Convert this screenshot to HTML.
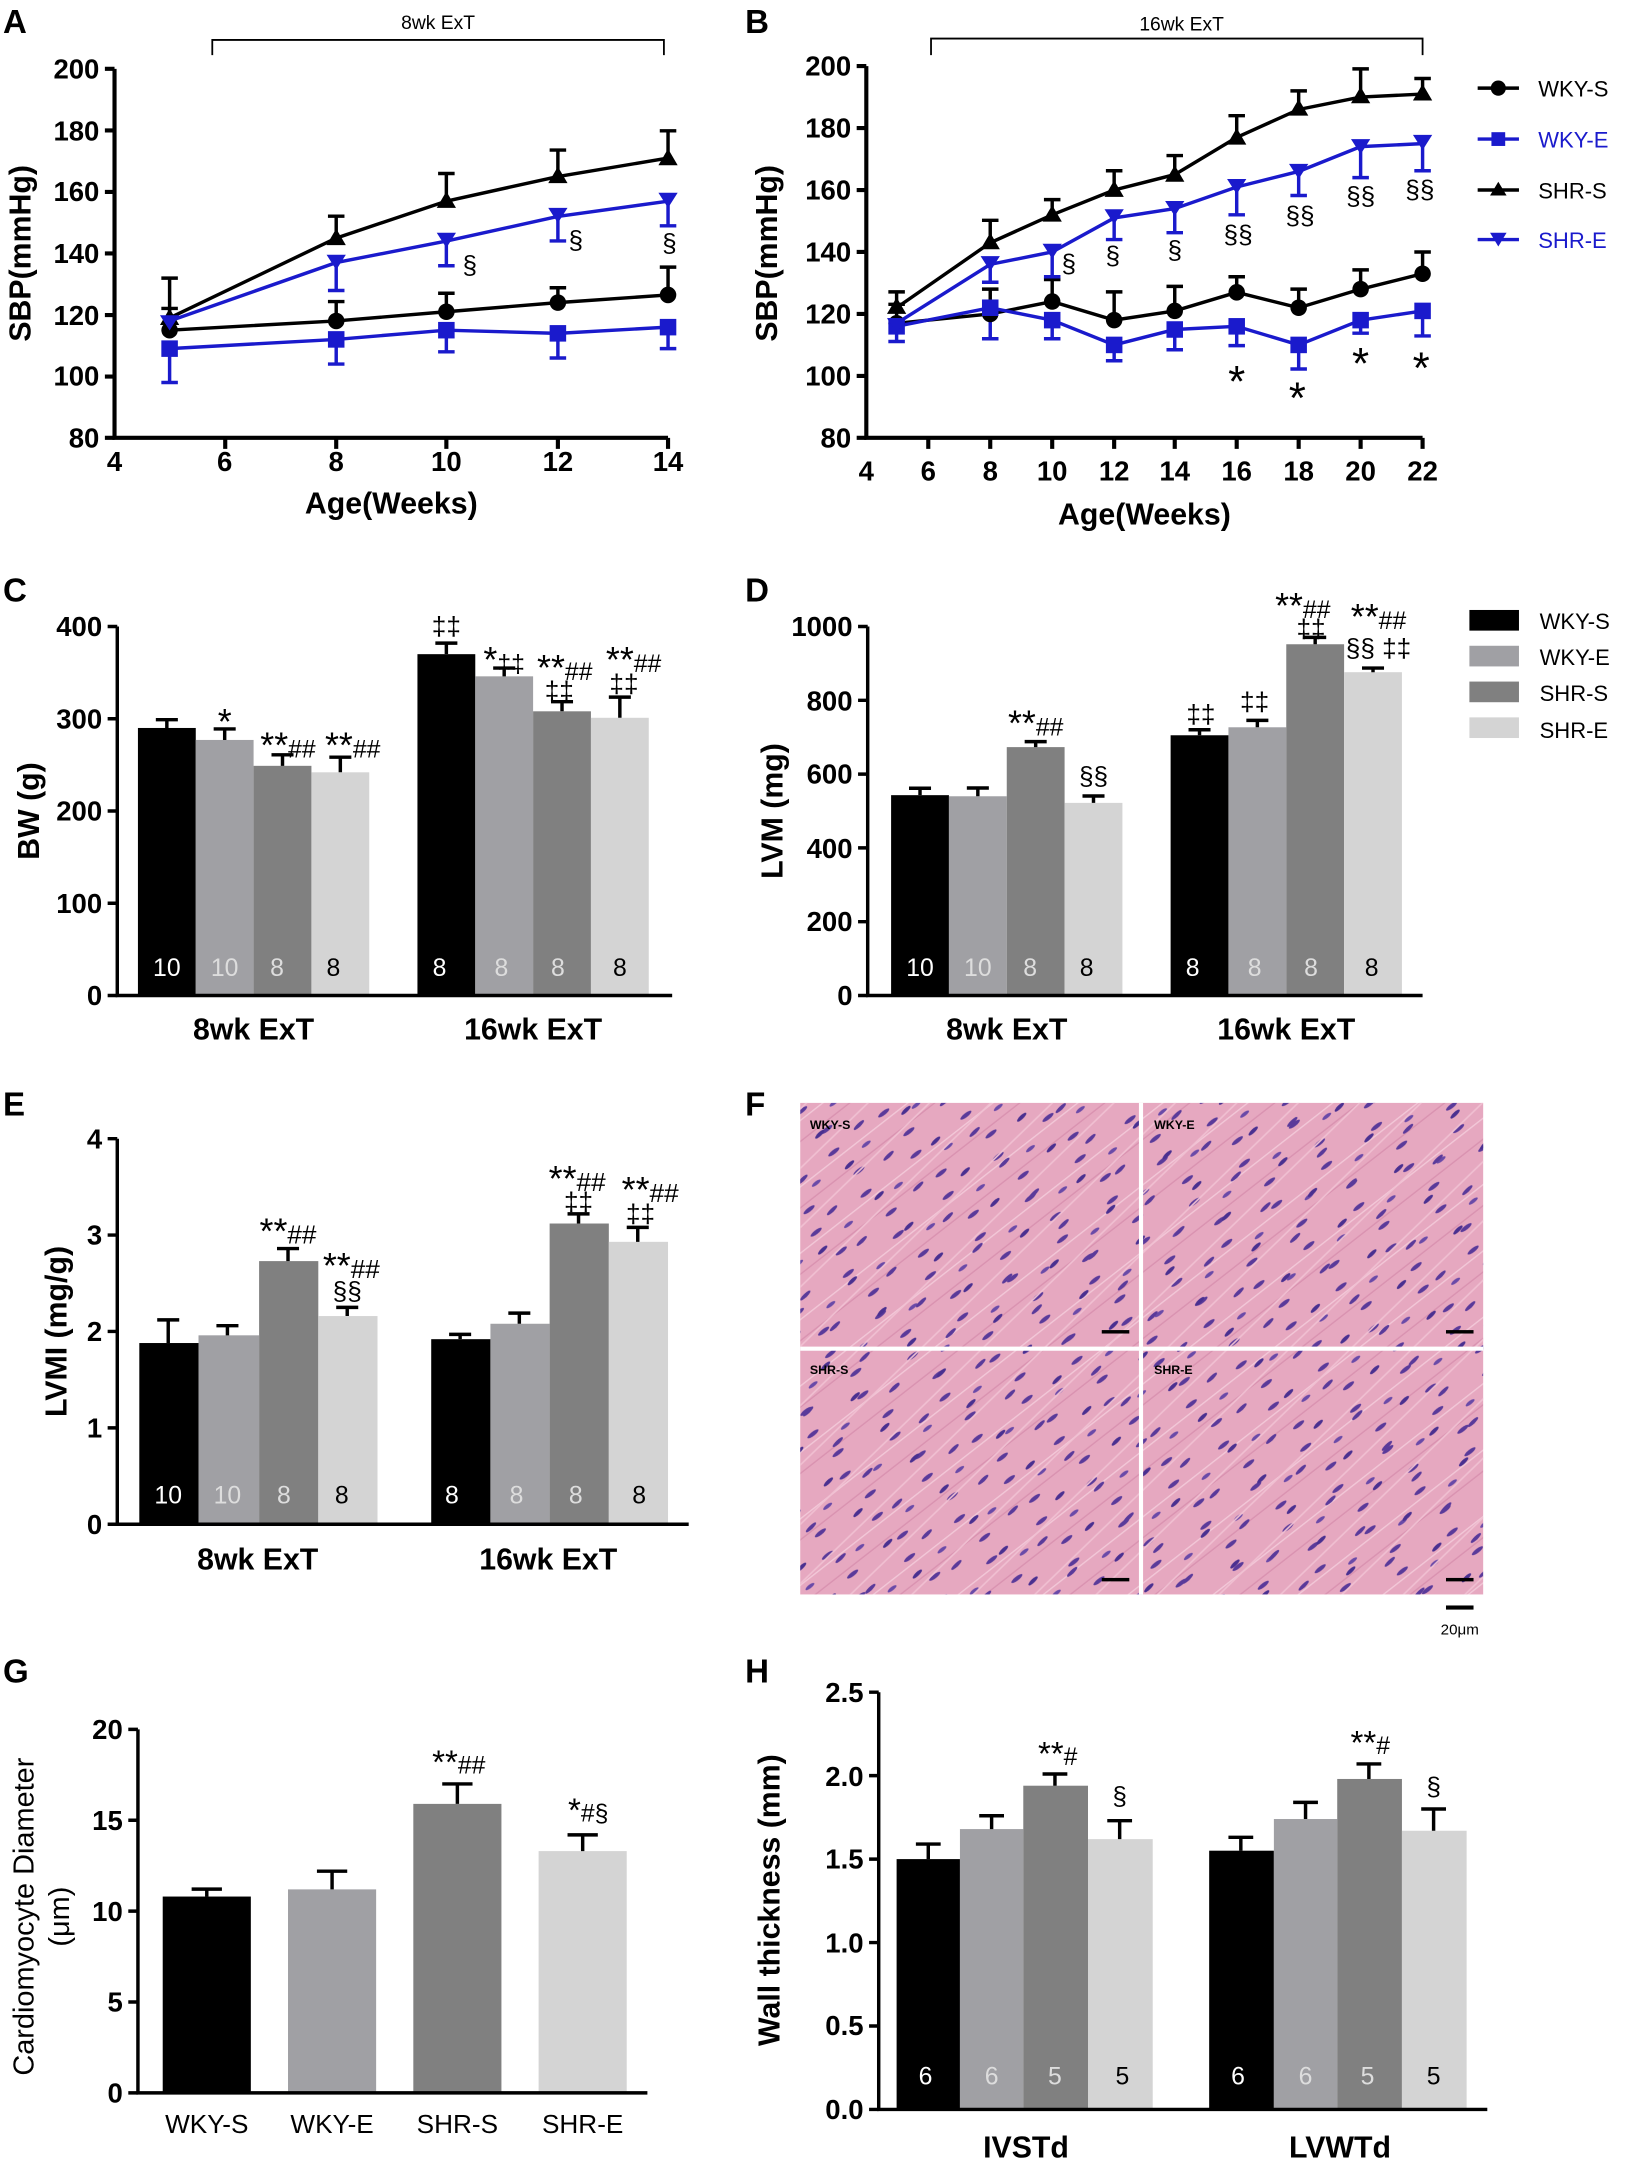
<!DOCTYPE html>
<html><head><meta charset="utf-8"><style>
html,body{margin:0;padding:0;background:#fff}
svg{display:block}
text{font-family:"Liberation Sans",Arial,sans-serif}
.pl{font-size:24px;font-weight:bold}
.tk{font-size:20px;font-weight:bold;text-anchor:end}
.tx{font-size:20px;font-weight:bold;text-anchor:middle}
.ax{font-size:22px;font-weight:bold;text-anchor:middle}
.n{font-size:18px;text-anchor:middle}
.an{font-size:19px;text-anchor:middle}
.st{font-size:26px}
.lg{font-size:16px}
</style></head><body>
<svg width="1639" height="2170" viewBox="0 0 1190 1576" xmlns="http://www.w3.org/2000/svg">
<defs>
<pattern id="tis" width="46" height="38" patternUnits="userSpaceOnUse" patternTransform="rotate(-38)">
<rect width="46" height="38" fill="#e6a8c0"/>
<ellipse cx="8" cy="6" rx="5" ry="1.5" fill="#5a3a9a"/>
<ellipse cx="30" cy="16" rx="4" ry="1.3" fill="#6a4aa8"/>
<ellipse cx="14" cy="28" rx="5" ry="1.5" fill="#5a3a9a"/>
<line x1="0" y1="11" x2="46" y2="11" stroke="#f2c8d8" stroke-width="1"/>
<line x1="0" y1="23" x2="46" y2="23" stroke="#d992b0" stroke-width="1"/>
</pattern>
<pattern id="tis2" width="57" height="31" patternUnits="userSpaceOnUse" patternTransform="rotate(-44) translate(7,5)">
<ellipse cx="20" cy="9" rx="4.5" ry="1.4" fill="#4a3090"/>
<ellipse cx="45" cy="24" rx="5" ry="1.4" fill="#5a3a9a"/>
<line x1="0" y1="17" x2="57" y2="17" stroke="#f0c0d2" stroke-width="1.2"/>
</pattern>
</defs>
<g fill="#000">
<text class="pl" x="2" y="24">A</text><text class="pl" x="541" y="24">B</text>
<text class="pl" x="2" y="437">C</text><text class="pl" x="541" y="437">D</text>
<text class="pl" x="2" y="810">E</text><text class="pl" x="541" y="810">F</text>
<text class="pl" x="2" y="1222">G</text><text class="pl" x="541" y="1222">H</text>
</g>

<!-- Panel A -->
<g stroke="#000" stroke-width="3" fill="none">
<path d="M83 50V318H485"/>
<path d="M76 50H83M76 94.7H83M76 139.4H83M76 184.1H83M76 228.8H83M76 273.5H83M76 318H83"/>
<path d="M163.4 318v8M244 318v8M324 318v8M405 318v8M485 318v8"/>
</g>
<path d="M154 40V29H482V40" stroke="#000" stroke-width="1.3" fill="none"/>
<text x="318" y="21" font-size="14" text-anchor="middle">8wk ExT</text>
<g>
<text class="tk" x="72" y="57">200</text><text class="tk" x="72" y="102">180</text><text class="tk" x="72" y="146">160</text><text class="tk" x="72" y="191">140</text><text class="tk" x="72" y="236">120</text><text class="tk" x="72" y="280">100</text><text class="tk" x="72" y="325">80</text>
<text class="tx" x="83" y="342">4</text><text class="tx" x="163" y="342">6</text><text class="tx" x="244" y="342">8</text><text class="tx" x="324" y="342">10</text><text class="tx" x="405" y="342">12</text><text class="tx" x="485" y="342">14</text>
<text class="ax" x="284" y="373">Age(Weeks)</text>
<text class="ax" transform="translate(22,184) rotate(-90)" font-size="26">SBP(mmHg)</text>
</g>
<g stroke="#000" stroke-width="2.5" fill="none">
<polyline points="123,239.8 244,233.1 324,226.4 405,219.8 485,214.2"/>
<polyline points="123,230.9 244,172.9 324,146.1 405,128.2 485,114.8"/>
<path d="M123 239.8V202m-6 0h12M244 233.1V219m-6 0h12M324 226.4V213m-6 0h12M405 219.8V209m-6 0h12M485 214.2V194m-6 0h12"/>
<path d="M123 230.9V224m-6 0h12M244 172.9V157m-6 0h12M324 146.1V126m-6 0h12M405 128.2V109m-6 0h12M485 114.8V95m-6 0h12"/>
</g>
<g stroke="#1a1acc" stroke-width="2.5" fill="none">
<polyline points="123,253.2 244,246.5 324,239.8 405,242.1 485,237.6"/>
<polyline points="123,233.1 244,190.7 324,175.1 405,157.2 485,146.1"/>
<path d="M123 253.2V277.8m-6 0h12M244 246.5V264.4m-6 0h12M324 239.8V255.5m-6 0h12M405 242.1V260m-6 0h12M485 237.6V253.2m-6 0h12"/>
<path d="M244 190.7V211m-6 0h12M324 175.1V193m-6 0h12M405 157.2V175m-6 0h12M485 146.1V164m-6 0h12"/>
</g>
<g fill="#000">
<circle cx="123" cy="239.8" r="6"/><circle cx="244" cy="233.1" r="6"/><circle cx="324" cy="226.4" r="6"/><circle cx="405" cy="219.8" r="6"/><circle cx="485" cy="214.2" r="6"/>
<path d="M123 224l7 12h-14zM244 166l7 12h-14zM324 139l7 12h-14zM405 121l7 12h-14zM485 108l7 12h-14z"/>
</g>
<g fill="#1a1acc">
<rect x="117" y="247.2" width="12" height="12"/><rect x="238" y="240.5" width="12" height="12"/><rect x="318" y="233.8" width="12" height="12"/><rect x="399" y="236.1" width="12" height="12"/><rect x="479" y="231.6" width="12" height="12"/>
<path d="M116 229h14l-7 11zM237 185h14l-7 11zM317 169h14l-7 11zM398 151h14l-7 11zM478 140h14l-7 11z"/>
</g>
<g><text class="an" x="341" y="199">§</text><text class="an" x="418" y="181">§</text><text class="an" x="486" y="183">§</text></g>

<!-- Panel B -->
<g stroke="#000" stroke-width="3" fill="none">
<path d="M629 48V318H1033"/>
<path d="M622 48H629M622 93H629M622 138H629M622 183H629M622 228H629M622 273H629M622 318H629"/>
<path d="M674 318v8M719 318v8M764 318v8M809 318v8M853 318v8M898 318v8M943 318v8M988 318v8M1033 318v8"/>
</g>
<path d="M676 40V28H1033V40" stroke="#000" stroke-width="1.3" fill="none"/>
<text x="858" y="22" font-size="14" text-anchor="middle">16wk ExT</text>
<g>
<text class="tk" x="618" y="55">200</text><text class="tk" x="618" y="100">180</text><text class="tk" x="618" y="145">160</text><text class="tk" x="618" y="190">140</text><text class="tk" x="618" y="235">120</text><text class="tk" x="618" y="280">100</text><text class="tk" x="618" y="325">80</text>
<text class="tx" x="629" y="349">4</text><text class="tx" x="674" y="349">6</text><text class="tx" x="719" y="349">8</text><text class="tx" x="764" y="349">10</text><text class="tx" x="809" y="349">12</text><text class="tx" x="853" y="349">14</text><text class="tx" x="898" y="349">16</text><text class="tx" x="943" y="349">18</text><text class="tx" x="988" y="349">20</text><text class="tx" x="1033" y="349">22</text>
<text class="ax" x="831" y="381">Age(Weeks)</text>
<text class="ax" transform="translate(564,184) rotate(-90)" font-size="26">SBP(mmHg)</text>
</g>
<g stroke="#000" stroke-width="2.5" fill="none">
<polyline points="651,234.8 719,228 764,219 809,232.5 853,225.8 898,212.3 943,223.5 988,210 1033,198.8"/>
<polyline points="651,223.5 719,176.3 764,156 809,138 853,126.8 898,99.8 943,79.5 988,70.5 1033,68.3"/>
<path d="M651 234.8V221m-6 0h12M719 228V210m-6 0h12M764 219V203m-6 0h12M809 232.5V212m-6 0h12M853 225.8V208m-6 0h12M898 212.3V201m-6 0h12M943 223.5V210m-6 0h12M988 210V196m-6 0h12M1033 198.8V183m-6 0h12"/>
<path d="M651 223.5V212m-6 0h12M719 176.3V160m-6 0h12M764 156V145m-6 0h12M809 138V124m-6 0h12M853 126.8V113m-6 0h12M898 99.8V84m-6 0h12M943 79.5V66m-6 0h12M988 70.5V50m-6 0h12M1033 68.3V57m-6 0h12"/>
</g>
<g stroke="#1a1acc" stroke-width="2.5" fill="none">
<polyline points="651,237 719,223.5 764,232.5 809,250.5 853,239.3 898,237 943,250.5 988,232.5 1033,225.8"/>
<polyline points="651,234.8 719,192 764,183 809,158.3 853,151.5 898,135.8 943,124.5 988,106.5 1033,104.3"/>
<path d="M651 237V248m-6 0h12M719 223.5V246m-6 0h12M764 232.5V246m-6 0h12M809 250.5V262m-6 0h12M853 239.3V254m-6 0h12M898 237V251m-6 0h12M943 250.5V268m-6 0h12M988 232.5V242m-6 0h12M1033 225.8V244m-6 0h12"/>
<path d="M719 192V205m-6 0h12M764 183V201m-6 0h12M809 158.3V174m-6 0h12M853 151.5V169m-6 0h12M898 135.8V156m-6 0h12M943 124.5V142m-6 0h12M988 106.5V129m-6 0h12M1033 104.3V124m-6 0h12"/>
</g>
<g fill="#000">
<circle cx="651" cy="234.8" r="6"/><circle cx="719" cy="228" r="6"/><circle cx="764" cy="219" r="6"/><circle cx="809" cy="232.5" r="6"/><circle cx="853" cy="225.8" r="6"/><circle cx="898" cy="212.3" r="6"/><circle cx="943" cy="223.5" r="6"/><circle cx="988" cy="210" r="6"/><circle cx="1033" cy="198.8" r="6"/>
<path d="M651 216l7 12h-14zM719 169l7 12h-14zM764 149l7 12h-14zM809 131l7 12h-14zM853 120l7 12h-14zM898 93l7 12h-14zM943 72l7 12h-14zM988 63l7 12h-14zM1033 61l7 12h-14z"/>
</g>
<g fill="#1a1acc">
<rect x="645" y="231" width="12" height="12"/><rect x="713" y="217.5" width="12" height="12"/><rect x="758" y="226.5" width="12" height="12"/><rect x="803" y="244.5" width="12" height="12"/><rect x="847" y="233.3" width="12" height="12"/><rect x="892" y="231" width="12" height="12"/><rect x="937" y="244.5" width="12" height="12"/><rect x="982" y="226.5" width="12" height="12"/><rect x="1027" y="219.8" width="12" height="12"/>
<path d="M644 231h14l-7 11zM712 186h14l-7 11zM757 177h14l-7 11zM802 152h14l-7 11zM846 146h14l-7 11zM891 130h14l-7 11zM936 119h14l-7 11zM981 101h14l-7 11zM1026 98h14l-7 11z"/>
</g>
<g>
<text class="an" x="776" y="198">§</text><text class="an" x="808" y="192">§</text><text class="an" x="853" y="188">§</text><text class="an" x="899" y="177">§§</text><text class="an" x="944" y="163">§§</text><text class="an" x="988" y="149">§§</text><text class="an" x="1031" y="144">§§</text>
<text x="898" y="288" font-size="32" text-anchor="middle">*</text><text x="942" y="300" font-size="32" text-anchor="middle">*</text><text x="988" y="275" font-size="32" text-anchor="middle">*</text><text x="1032" y="278" font-size="32" text-anchor="middle">*</text>
</g>
<!-- legend AB -->
<g stroke-width="2.5">
<line x1="1073" y1="64" x2="1103" y2="64" stroke="#000"/><circle cx="1088" cy="64" r="5.5" fill="#000"/>
<line x1="1073" y1="101" x2="1103" y2="101" stroke="#1a1acc"/><rect x="1083" y="96" width="10" height="10" fill="#1a1acc"/>
<line x1="1073" y1="138" x2="1103" y2="138" stroke="#000"/><path d="M1088 132l6 10h-12z" fill="#000"/>
<line x1="1073" y1="174" x2="1103" y2="174" stroke="#1a1acc"/><path d="M1082 169h12l-6 10z" fill="#1a1acc"/>
</g>
<text class="lg" x="1117" y="70">WKY-S</text><text class="lg" x="1117" y="107" fill="#1a1acc">WKY-E</text><text class="lg" x="1117" y="144">SHR-S</text><text class="lg" x="1117" y="180" fill="#1a1acc">SHR-E</text>

<!-- Panel C -->
<g>
<rect x="100" y="528.7" width="42" height="194.3" fill="#000"/><rect x="142" y="537.4" width="42" height="185.6" fill="#a0a0a4"/><rect x="184" y="556.2" width="42" height="166.8" fill="#808080"/><rect x="226" y="560.9" width="42" height="162.1" fill="#d4d4d4"/>
<rect x="303" y="475.1" width="42" height="247.9" fill="#000"/><rect x="345" y="491.2" width="42" height="231.8" fill="#a0a0a4"/><rect x="387" y="516.6" width="42" height="206.4" fill="#808080"/><rect x="429" y="521.3" width="42" height="201.7" fill="#d4d4d4"/>
</g>
<g stroke="#000" stroke-width="2.5" fill="none">
<path d="M121 528.7v-6m-8 0h16M163 537.4v-8m-8 0h16M205 556.2v-8m-8 0h16M247 560.9v-11m-8 0h16M324 475.1v-8m-8 0h16M366 491.2v-6m-8 0h16M408 516.6v-7m-8 0h16M450 521.3v-15m-8 0h16"/>
<path d="M85 455V723H488"/>
<path d="M78 455H85M78 522H85M78 589H85M78 656H85M78 723H85"/>
</g>
<g>
<text class="tk" x="74" y="462">400</text><text class="tk" x="74" y="529">300</text><text class="tk" x="74" y="596">200</text><text class="tk" x="74" y="663">100</text><text class="tk" x="74" y="730">0</text>
<text class="ax" x="184" y="755">8wk ExT</text><text class="ax" x="387" y="755">16wk ExT</text>
<text class="ax" transform="translate(28,589) rotate(-90)">BW (g)</text>
<text class="n" x="121" y="709" fill="#fff">10</text><text class="n" x="163" y="709" fill="#ddd">10</text><text class="n" x="201" y="709" fill="#ddd">8</text><text class="n" x="242" y="709">8</text>
<text class="n" x="319" y="709" fill="#fff">8</text><text class="n" x="364" y="709" fill="#ddd">8</text><text class="n" x="405" y="709" fill="#ddd">8</text><text class="n" x="450" y="709">8</text>
<text x="163" y="533" class="st" text-anchor="middle">*</text>
<text x="209" y="550" font-size="18" text-anchor="middle"><tspan class="st">**</tspan>##</text><text x="256" y="550" font-size="18" text-anchor="middle"><tspan class="st">**</tspan>##</text>
<text x="324" y="461" class="an">‡‡</text><text x="366" y="488" font-size="18" text-anchor="middle"><tspan class="st">*</tspan>‡‡</text>
<text x="410" y="494" font-size="18" text-anchor="middle"><tspan class="st">**</tspan>##</text><text x="406" y="508" class="an">‡‡</text>
<text x="460" y="488" font-size="18" text-anchor="middle"><tspan class="st">**</tspan>##</text><text x="453" y="503" class="an">‡‡</text>
</g>

<!-- Panel D -->
<g>
<rect x="647" y="577.5" width="42" height="145.5" fill="#000"/><rect x="689" y="578.3" width="42" height="144.7" fill="#a0a0a4"/><rect x="731" y="542.6" width="42" height="180.4" fill="#808080"/><rect x="773" y="583.1" width="42" height="139.9" fill="#d4d4d4"/>
<rect x="850" y="534" width="42" height="189" fill="#000"/><rect x="892" y="528.2" width="42" height="194.8" fill="#a0a0a4"/><rect x="934" y="467.9" width="42" height="255.1" fill="#808080"/><rect x="976" y="488.2" width="42" height="234.8" fill="#d4d4d4"/>
</g>
<g stroke="#000" stroke-width="2.5" fill="none">
<path d="M668 577.5v-5m-8 0h16M710 578.3v-6m-8 0h16M752 542.6v-4m-8 0h16M794 583.1v-5m-8 0h16M871 534v-4m-8 0h16M913 528.2v-5m-8 0h16M955 467.9v-5m-8 0h16M997 488.2v-3m-8 0h16"/>
<path d="M630 455V723H1033"/>
<path d="M623 455H630M623 508.6H630M623 562.2H630M623 615.8H630M623 669.4H630M623 723H630"/>
</g>
<g>
<text class="tk" x="619" y="462">1000</text><text class="tk" x="619" y="516">800</text><text class="tk" x="619" y="569">600</text><text class="tk" x="619" y="623">400</text><text class="tk" x="619" y="676">200</text><text class="tk" x="619" y="730">0</text>
<text class="ax" x="731" y="755">8wk ExT</text><text class="ax" x="934" y="755">16wk ExT</text>
<text class="ax" transform="translate(568,589) rotate(-90)">LVM (mg)</text>
<text class="n" x="668" y="709" fill="#fff">10</text><text class="n" x="710" y="709" fill="#ddd">10</text><text class="n" x="748" y="709" fill="#ddd">8</text><text class="n" x="789" y="709">8</text>
<text class="n" x="866" y="709" fill="#fff">8</text><text class="n" x="911" y="709" fill="#ddd">8</text><text class="n" x="952" y="709" fill="#ddd">8</text><text class="n" x="996" y="709">8</text>
<text x="752" y="534" font-size="18" text-anchor="middle"><tspan class="st">**</tspan>##</text><text x="794" y="570" class="an">§§</text>
<text x="872" y="525" class="an">‡‡</text><text x="911" y="516" class="an">‡‡</text>
<text x="946" y="449" font-size="18" text-anchor="middle"><tspan class="st">**</tspan>##</text><text x="952" y="463" class="an">‡‡</text>
<text x="1001" y="457" font-size="18" text-anchor="middle"><tspan class="st">**</tspan>##</text><text x="1001" y="477" class="an">§§ ‡‡</text>
</g>
<g>
<rect x="1067" y="443" width="36" height="15" fill="#000"/><rect x="1067" y="469" width="36" height="15" fill="#a0a0a4"/><rect x="1067" y="495" width="36" height="15" fill="#808080"/><rect x="1067" y="521" width="36" height="15" fill="#d4d4d4"/>
<text class="lg" x="1118" y="457">WKY-S</text><text class="lg" x="1118" y="483">WKY-E</text><text class="lg" x="1118" y="509">SHR-S</text><text class="lg" x="1118" y="536">SHR-E</text>
</g>

<!-- Panel E -->
<g>
<rect x="101" y="975.4" width="43" height="131.6" fill="#000"/><rect x="144" y="969.8" width="44" height="137.2" fill="#a0a0a4"/><rect x="188" y="915.9" width="43" height="191.1" fill="#808080"/><rect x="231" y="955.8" width="43" height="151.2" fill="#d4d4d4"/>
<rect x="313" y="972.6" width="43" height="134.4" fill="#000"/><rect x="356" y="961.4" width="43" height="145.6" fill="#a0a0a4"/><rect x="399" y="888.6" width="43" height="218.4" fill="#808080"/><rect x="442" y="901.9" width="43" height="205.1" fill="#d4d4d4"/>
</g>
<g stroke="#000" stroke-width="2.5" fill="none">
<path d="M122 975.4V958.6m-8 0h16M165 969.8V962.8m-8 0h16M209 915.9V906.8m-8 0h16M252 955.8V949.5m-8 0h16M334 972.6V969.1m-8 0h16M377 961.4V953.7m-8 0h16M420 888.6V881.6m-8 0h16M463 901.9V891.4m-8 0h16"/>
<path d="M85 827V1107H500"/>
<path d="M78 827H85M78 897H85M78 967H85M78 1037H85M78 1107H85"/>
</g>
<g>
<text class="tk" x="74" y="834">4</text><text class="tk" x="74" y="904">3</text><text class="tk" x="74" y="974">2</text><text class="tk" x="74" y="1044">1</text><text class="tk" x="74" y="1114">0</text>
<text class="ax" x="187" y="1140">8wk ExT</text><text class="ax" x="398" y="1140">16wk ExT</text>
<text class="ax" transform="translate(48,967) rotate(-90)">LVMI (mg/g)</text>
<text class="n" x="122" y="1092" fill="#fff">10</text><text class="n" x="165" y="1092" fill="#ddd">10</text><text class="n" x="206" y="1092" fill="#ddd">8</text><text class="n" x="248" y="1092">8</text>
<text class="n" x="328" y="1092" fill="#fff">8</text><text class="n" x="375" y="1092" fill="#ddd">8</text><text class="n" x="418" y="1092" fill="#ddd">8</text><text class="n" x="464" y="1092">8</text>
<text x="209" y="903" font-size="19" text-anchor="middle"><tspan class="st">**</tspan>##</text><text x="255" y="928" font-size="19" text-anchor="middle"><tspan class="st">**</tspan>##</text><text x="252" y="944" class="an">§§</text>
<text x="419" y="865" font-size="19" text-anchor="middle"><tspan class="st">**</tspan>##</text><text x="420" y="879" class="an">‡‡</text>
<text x="472" y="873" font-size="19" text-anchor="middle"><tspan class="st">**</tspan>##</text><text x="465" y="888" class="an">‡‡</text>
</g>

<!-- Panel F -->
<rect x="581" y="801" width="496" height="357" fill="url(#tis)"/>
<rect x="581" y="801" width="496" height="357" fill="url(#tis2)"/>
<rect x="827" y="801" width="3" height="357" fill="#fff"/>
<rect x="581" y="978" width="496" height="3" fill="#fff"/>
<g font-size="9" font-weight="bold"><text x="588" y="820">WKY-S</text><text x="838" y="820">WKY-E</text><text x="588" y="998">SHR-S</text><text x="838" y="998">SHR-E</text></g>
<g fill="#000"><rect x="800" y="966" width="20" height="2.5"/><rect x="1050" y="966" width="20" height="2.5"/><rect x="800" y="1146" width="20" height="2.5"/><rect x="1050" y="1146" width="20" height="2.5"/><rect x="1050" y="1166" width="20" height="3"/></g>
<text x="1060" y="1187" font-size="11" text-anchor="middle">20μm</text>

<!-- Panel G -->
<g>
<rect x="118" y="1377.4" width="64" height="142.6" fill="#000"/><rect x="209" y="1372.2" width="64" height="147.8" fill="#a0a0a4"/><rect x="300" y="1310.1" width="64" height="209.9" fill="#808080"/><rect x="391" y="1344.4" width="64" height="175.6" fill="#d4d4d4"/>
</g>
<g stroke="#000" stroke-width="2.5" fill="none">
<path d="M150 1377.4V1372m-11 0h22M241 1372.2V1359m-11 0h22M332 1310.1V1295.6m-11 0h22M423 1344.4V1332.6m-11 0h22"/>
<path d="M100 1256V1520H470"/>
<path d="M93 1256H100M93 1322H100M93 1388H100M93 1454H100M93 1520H100"/>
</g>
<g>
<text class="tk" x="89" y="1263" font-weight="normal">20</text><text class="tk" x="89" y="1329" font-weight="normal">15</text><text class="tk" x="89" y="1395" font-weight="normal">10</text><text class="tk" x="89" y="1461" font-weight="normal">5</text><text class="tk" x="89" y="1527" font-weight="normal">0</text>
<text x="150" y="1549" font-size="19" text-anchor="middle">WKY-S</text><text x="241" y="1549" font-size="19" text-anchor="middle">WKY-E</text><text x="332" y="1549" font-size="19" text-anchor="middle">SHR-S</text><text x="423" y="1549" font-size="19" text-anchor="middle">SHR-E</text>
<text x="24" y="1392" font-size="21" text-anchor="middle" transform="rotate(-90,24,1392)">Cardiomyocyte Diameter</text>
<text x="50" y="1392" font-size="21" text-anchor="middle" transform="rotate(-90,50,1392)">(μm)</text>
<text x="333" y="1288" font-size="18" text-anchor="middle"><tspan font-size="24">**</tspan>##</text><text x="427" y="1323" font-size="18" text-anchor="middle"><tspan font-size="24">*</tspan>#§</text>
</g>

<!-- Panel H -->
<g>
<rect x="651" y="1350.2" width="46" height="181.8" fill="#000"/><rect x="697" y="1328.4" width="46" height="203.6" fill="#a0a0a4"/><rect x="743" y="1296.9" width="47" height="235.1" fill="#808080"/><rect x="790" y="1335.7" width="47" height="196.3" fill="#d4d4d4"/>
<rect x="878" y="1344.1" width="47" height="187.9" fill="#000"/><rect x="925" y="1321.1" width="46" height="210.9" fill="#a0a0a4"/><rect x="971" y="1292" width="47" height="240" fill="#808080"/><rect x="1018" y="1329.6" width="47" height="202.4" fill="#d4d4d4"/>
</g>
<g stroke="#000" stroke-width="2.5" fill="none">
<path d="M674 1350.2V1339.3m-9 0h18M720 1328.4V1318.7m-9 0h18M766 1296.9V1288.4m-9 0h18M813 1335.7V1322.3m-9 0h18M901 1344.1V1334.4m-9 0h18M948 1321.1V1309m-9 0h18M994 1292V1281.1m-9 0h18M1041 1329.6V1313.8m-9 0h18"/>
<path d="M638 1229V1532H1080"/>
<path d="M631 1229H638M631 1289.6H638M631 1350.2H638M631 1410.8H638M631 1471.4H638M631 1532H638"/>
</g>
<g>
<text class="tk" x="627" y="1236" font-weight="normal">2.5</text><text class="tk" x="627" y="1297" font-weight="normal">2.0</text><text class="tk" x="627" y="1357" font-weight="normal">1.5</text><text class="tk" x="627" y="1418" font-weight="normal">1.0</text><text class="tk" x="627" y="1478" font-weight="normal">0.5</text><text class="tk" x="627" y="1539" font-weight="normal">0.0</text>
<text class="ax" x="745" y="1567" font-size="24">IVSTd</text><text class="ax" x="973" y="1567" font-size="24">LVWTd</text>
<text class="ax" transform="translate(566,1380) rotate(-90)" font-size="27">Wall thickness  (mm)</text>
<text class="n" x="672" y="1514" fill="#fff">6</text><text class="n" x="720" y="1514" fill="#ddd">6</text><text class="n" x="766" y="1514" fill="#ddd">5</text><text class="n" x="815" y="1514">5</text>
<text class="n" x="899" y="1514" fill="#fff">6</text><text class="n" x="948" y="1514" fill="#ddd">6</text><text class="n" x="993" y="1514" fill="#ddd">5</text><text class="n" x="1041" y="1514">5</text>
<text x="768" y="1282" font-size="18" text-anchor="middle"><tspan font-size="24">**</tspan>#</text><text x="813" y="1311" class="an">§</text>
<text x="995" y="1274" font-size="18" text-anchor="middle"><tspan font-size="24">**</tspan>#</text><text x="1041" y="1304" class="an">§</text>
</g>
</svg>
</body></html>
